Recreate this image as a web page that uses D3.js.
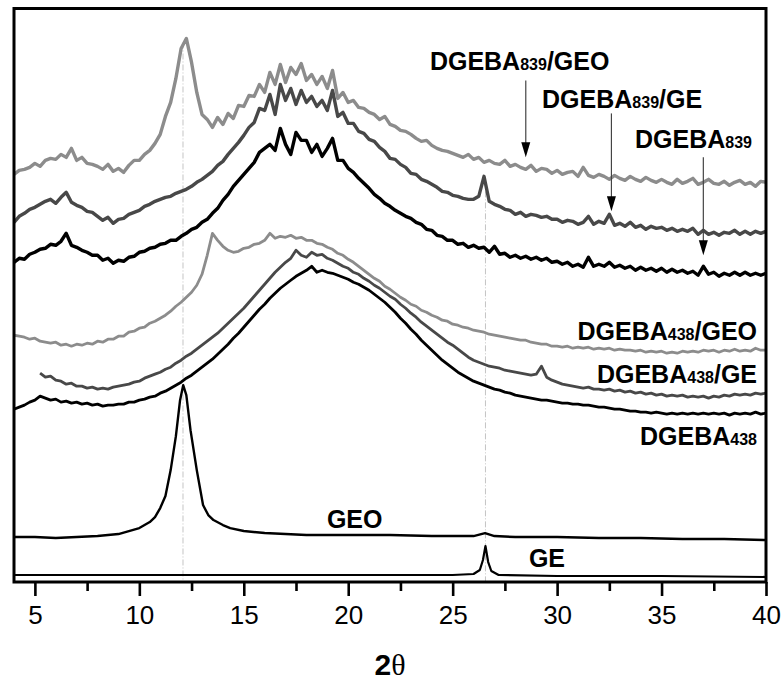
<!DOCTYPE html>
<html>
<head>
<meta charset="utf-8">
<script src="https://cdn.jsdelivr.net/npm/d3@7"></script>
<style>
  html, body { margin: 0; padding: 0; background: #fff; }
  svg { display: block; }
  .tick text { font-family: "Liberation Sans", Arial, sans-serif; }
</style>
</head>
<body>
<svg id="chart" width="784" height="684"></svg>
<script>
// XRD patterns, intensity in arbitrary units (curves are vertically offset).
// Scans on a 0.25° 2θ grid; values grouped four per degree.
const scanStep = 0.25;

const dgeba839Geo = [
  426, 430, 431, 433,  437, 434, 440, 442,  441, 446, 443, 452,  440, 443, 437, 436,
  434, 431, 436, 429,  432, 428, 435, 440,  440, 446, 450, 457,  466, 484, 498, 522,
  552, 562, 538, 508,  486, 481, 473, 483,  476, 487, 482, 495,  494, 505, 504, 516,
  508, 528, 516, 536,  518, 533, 526, 537,  520, 526, 516, 524,  512, 530, 502, 508,
  498, 500, 493, 492,  488, 486, 481, 484,  476, 474, 470, 469,  466, 462, 459, 460,
  455, 452, 450, 449,  447, 445, 443, 446,  441, 443, 438, 440,  437, 436, 440, 434,
  436, 433, 431, 435,  429, 432, 431, 427,  430, 426, 428, 429,  424, 433, 425, 423,
  426, 424, 421, 425,  422, 420, 424, 421,  419, 423, 420, 418,  421, 418, 416, 421,
  417, 419, 422, 416,  418, 421, 417, 416,  419, 415, 418, 420,  416, 418, 414, 419,
  418
];

const dgeba839Ge = [
  378, 384, 387, 391,  393, 396, 399, 401,  397, 403, 408, 398,  395, 393, 389, 388,
  384, 380, 383, 377,  381, 382, 386, 388,  390, 394, 396, 399,  401, 403, 404, 407,
  409, 411, 414, 418,  421, 425, 429, 435,  439, 446, 452, 458,  465, 473, 478, 492,
  490, 506, 486, 516,  500, 512, 496, 510,  498, 504, 494, 500,  490, 510, 484, 488,
  477, 477, 469, 467,  461, 459, 453, 449,  442, 441, 436, 433,  427, 426, 421, 419,
  416, 413, 409, 408,  405, 404, 402, 401,  401, 404, 424, 399,  396, 394, 391, 390,
  386, 388, 384, 386,  385, 383, 384, 381,  381, 378, 380, 379,  376, 378, 384, 376,
  379, 377, 386, 375,  377, 374, 378, 373,  375, 371, 374, 372,  373, 370, 372, 369,
  371, 369, 372, 366,  370, 366, 368, 365,  368, 367, 370, 366,  369, 366, 369, 367,
  369
];

const dgeba839 = [
  338, 342, 341, 346,  348, 351, 352, 356,  355, 359, 367, 355,  353, 350, 348, 345,
  345, 340, 342, 337,  340, 339, 343, 344,  348, 349, 352, 353,  356, 357, 360, 360,
  364, 367, 371, 373,  378, 381, 387, 392,  400, 406, 414, 420,  426, 432, 438, 448,
  452, 456, 450, 472,  456, 446, 468, 460,  460, 448, 456, 444,  452, 462, 440, 440,
  432, 428, 422, 417,  412, 406, 402, 397,  394, 390, 387, 384,  382, 378, 376, 371,
  370, 365, 364, 360,  360, 356, 357, 353,  355, 352, 353, 348,  354, 346, 347, 343,
  345, 342, 344, 341,  343, 340, 342, 338,  339, 336, 338, 334,  336, 333, 343, 334,
  336, 334, 338, 333,  335, 332, 334, 330,  333, 330, 332, 329,  332, 328, 331, 328,
  330, 327, 329, 325,  334, 326, 328, 324,  327, 325, 328, 325,  328, 325, 327, 325,
  327
];

const dgeba438Geo = [
  265, 264, 263, 261,  262, 259, 258, 257,  258, 255, 256, 254,  256, 255, 257, 256,
  259, 258, 261, 261,  264, 264, 268, 269,  272, 273, 277, 279,  282, 285, 289, 294,
  298, 303, 308, 315,  326, 345, 367, 360,  354, 350, 348, 349,  352, 353, 356, 357,
  360, 367, 362, 364,  363, 365, 362, 363,  360, 360, 357, 356,  353, 351, 347, 345,
  341, 338, 334, 330,  326, 322, 319, 314,  311, 307, 303, 300,  296, 294, 290, 288,
  285, 283, 280, 279,  276, 275, 273, 272,  270, 269, 268, 266,  265, 264, 263, 262,
  261, 260, 260, 258,  257, 256, 256, 254,  254, 253, 254, 252,  253, 252, 253, 251,
  252, 251, 252, 250,  251, 250, 250, 249,  250, 248, 249, 248,  249, 247, 248, 247,
  249, 248, 249, 248,  250, 249, 250, 248,  250, 249, 251, 249,  250, 249, 252, 250,
  250
];

// DGEBA438/GE scan begins at 5.25°
const dgeba438GeStart = 5.25;
const dgeba438Ge = [
                  227, 223, 224,
  220, 219, 216, 217,  214, 214, 212, 213,  211, 212, 211, 213,  214, 215, 216, 218,
  219, 222, 224, 226,  228, 231, 233, 237,  240, 244, 247, 251,  255, 259, 263, 267,
  272, 277, 282, 287,  292, 298, 304, 310,  316, 322, 328, 333,  338, 342, 350, 345,
  343, 348, 345, 346,  342, 340, 337, 334,  332, 328, 326, 322,  319, 315, 312, 308,
  304, 301, 296, 292,  287, 283, 278, 274,  270, 266, 262, 258,  255, 251, 247, 243,
  240, 238, 236, 234,  233, 232, 230, 229,  228, 227, 226, 225,  226, 234, 223, 220,
  218, 216, 215, 214,  213, 212, 213, 211,  211, 210, 211, 209,  210, 208, 209, 207,
  208, 206, 207, 205,  206, 204, 205, 204,  205, 203, 204, 203,  204, 202, 204, 203,
  205, 204, 206, 205,  206, 205, 207, 206,
  207
];

const dgeba438 = [
  191, 193, 195, 198,  200, 204, 202, 200,  201, 198, 199, 197,  198, 196, 197, 195,
  196, 194, 195, 195,  196, 196, 198, 198,  200, 201, 203, 204,  207, 209, 212, 215,
  218, 222, 225, 229,  233, 237, 241, 246,  251, 256, 262, 267,  273, 279, 285, 291,
  296, 302, 307, 312,  316, 320, 324, 327,  330, 334, 328, 330,  328, 327, 325, 323,
  321, 318, 316, 313,  310, 306, 302, 298,  293, 288, 282, 277,  271, 266, 260, 255,
  250, 245, 240, 236,  232, 228, 225, 222,  219, 217, 215, 213,  211, 210, 208, 207,
  205, 204, 203, 202,  201, 200, 200, 199,  198, 197, 197, 196,  196, 195, 195, 194,
  193, 193, 192, 191,  191, 190, 189, 189,  188, 188, 187, 188,  187, 186, 187, 186,
  187, 186, 187, 186,  187, 186, 187, 186,  187, 185, 187, 186,  187, 186, 188, 186,
  187
];

// Pure fillers, sampled at irregular 2θ positions
const geoTwoTheta = [4, 5, 6, 7, 8, 9, 10, 10.5, 10.75, 11, 11.25, 11.5, 11.75, 11.95, 12.1,
  12.25, 12.45, 12.75, 13.05, 13.3, 13.55, 14, 14.35, 15, 16, 17, 18, 20, 22, 24, 26,
  26.55, 27, 28, 30, 32, 34, 36, 38, 40];
const geoIntensity = [63, 63, 62, 63, 64, 66, 72, 78, 83, 92, 104, 130, 164, 200, 215,
  205, 170, 130, 95, 85, 80, 75, 72, 69, 67, 66, 65, 65, 65, 64, 64,
  67, 64, 63, 63, 62, 62, 61, 61, 60];

const geTwoTheta = [4, 10, 15, 20, 25, 26, 26.3, 26.45, 26.57, 26.7, 26.85, 27.2, 30, 35, 40];
const geIntensity = [25, 25, 25, 25, 25, 26, 30, 40, 54, 38, 29, 25, 24, 24, 23];

// Reflection positions marked with guide lines
const guideAngles = [12.09, 26.57];

const xTicksMajor = [5, 10, 15, 20, 25, 30, 35, 40];
const xTicksMinor = [7.5, 12.5, 17.5, 22.5, 27.5, 32.5, 37.5];

const seriesNames = ["DGEBA839/GEO", "DGEBA839/GE", "DGEBA839", "DGEBA438/GEO", "DGEBA438/GE", "DGEBA438", "GEO", "GE"];

// ---------------------------------------------------------------
const svg = d3.select("#chart");
const W = 784, H = 684;
const plot = { left: 14, right: 766, top: 8.5, bottom: 582 };

const x = d3.scaleLinear().domain([4, 40]).range([plot.left, plot.right]);
const y = d3.scaleLinear().domain([18, 592]).range([plot.bottom, plot.top]);

const onGrid = (vals, start) => vals.map((v, i) => ({ t: start + i * scanStep, v }));
const paired = (ts, vs) => ts.map((t, i) => ({ t, v: vs[i] }));

const gray = "#8c8c8c", dark = "#484848", black = "#000";

const series = [
  { name: seriesNames[5], pts: onGrid(dgeba438, 4), color: black, w: 2.8 },
  { name: seriesNames[4], pts: onGrid(dgeba438Ge, dgeba438GeStart), color: dark, w: 2.8 },
  { name: seriesNames[3], pts: onGrid(dgeba438Geo, 4), color: gray, w: 2.8 },
  { name: seriesNames[2], pts: onGrid(dgeba839, 4), color: black, w: 3.4 },
  { name: seriesNames[1], pts: onGrid(dgeba839Ge, 4), color: dark, w: 3.4 },
  { name: seriesNames[0], pts: onGrid(dgeba839Geo, 4), color: gray, w: 3.4 },
  { name: seriesNames[6], pts: paired(geoTwoTheta, geoIntensity), color: black, w: 2.4 },
  { name: seriesNames[7], pts: paired(geTwoTheta, geIntensity), color: black, w: 2.2 }
];

svg.append("rect").attr("width", W).attr("height", H).attr("fill", "#fff");

svg.append("defs").append("clipPath").attr("id", "plotClip")
  .append("rect")
  .attr("x", plot.left).attr("y", plot.top)
  .attr("width", plot.right - plot.left).attr("height", plot.bottom - plot.top);

// Guide lines through the filler reflections, from the top pattern's peak down
const guideTop = [d3.max(dgeba839Geo), d3.max(dgeba839Ge.slice(80, 120))];
svg.append("g").selectAll("line").data(guideAngles).join("line")
  .attr("x1", d => x(d)).attr("x2", d => x(d))
  .attr("y1", (d, i) => y(guideTop[i]) + 4)
  .attr("y2", plot.bottom)
  .attr("stroke", "#c4c4c4").attr("stroke-width", 1)
  .attr("stroke-dasharray", "6,2,1,2");

const line = d3.line().x(d => x(d.t)).y(d => y(d.v)).curve(d3.curveLinear);

svg.append("g").attr("clip-path", "url(#plotClip)")
  .selectAll("path").data(series).join("path")
  .attr("d", d => line(d.pts))
  .attr("fill", "none")
  .attr("stroke", d => d.color)
  .attr("stroke-width", d => d.w)
  .attr("stroke-linejoin", "round");

// Frame
svg.append("rect")
  .attr("x", plot.left).attr("y", plot.top)
  .attr("width", plot.right - plot.left).attr("height", plot.bottom - plot.top)
  .attr("fill", "none").attr("stroke", "#000").attr("stroke-width", 3);

// Bottom axis: major ticks with labels, unlabeled minor ticks
const axisMajor = d3.axisBottom(x).tickValues(xTicksMajor).tickSize(14).tickPadding(10)
  .tickFormat(d3.format("d"));
const gMajor = svg.append("g").attr("transform", `translate(0,${plot.bottom})`).call(axisMajor);
gMajor.select(".domain").remove();
gMajor.selectAll(".tick line").attr("stroke", "#000").attr("stroke-width", 2.6);
gMajor.selectAll(".tick text").attr("fill", "#000").attr("font-size", 26);

const axisMinor = d3.axisBottom(x).tickValues(xTicksMinor).tickSize(9).tickFormat("");
const gMinor = svg.append("g").attr("transform", `translate(0,${plot.bottom})`).call(axisMinor);
gMinor.select(".domain").remove();
gMinor.selectAll(".tick line").attr("stroke", "#000").attr("stroke-width", 2.6);

// Axis title
const title = svg.append("text")
  .attr("x", (plot.left + plot.right) / 2).attr("y", 675)
  .attr("text-anchor", "middle").attr("fill", "#000");
title.append("tspan").text("2")
  .attr("font-family", "'Liberation Sans', Arial, sans-serif")
  .attr("font-weight", "bold").attr("font-size", 30);
title.append("tspan").text("θ")
  .attr("font-family", "'Liberation Serif', 'Times New Roman', serif")
  .attr("font-size", 30);

// Curve labels
const labels = [
  { main: "DGEBA", sub: "839", tail: "/GEO", t: 23.91, v: 530, anchor: "start" },
  { main: "DGEBA", sub: "839", tail: "/GE", t: 29.28, v: 492, anchor: "start" },
  { main: "DGEBA", sub: "839", tail: "", t: 33.73, v: 452, anchor: "start" },
  { main: "DGEBA", sub: "438", tail: "/GEO", t: 39.57, v: 260, anchor: "end" },
  { main: "DGEBA", sub: "438", tail: "/GE", t: 39.57, v: 217, anchor: "end" },
  { main: "DGEBA", sub: "438", tail: "", t: 39.57, v: 155, anchor: "end" },
  { main: "GEO", sub: "", tail: "", t: 18.98, v: 72, anchor: "start" },
  { main: "GE", sub: "", tail: "", t: 28.65, v: 33, anchor: "start" }
];

const lab = svg.append("g")
  .attr("font-family", "'Liberation Sans', Arial, sans-serif")
  .attr("font-weight", "bold").attr("fill", "#000");
labels.forEach(l => {
  const t = lab.append("text")
    .attr("x", x(l.t)).attr("y", y(l.v))
    .attr("text-anchor", l.anchor);
  t.append("tspan").attr("font-size", 25).text(l.main);
  if (l.sub) t.append("tspan").attr("font-size", 16).text(l.sub);
  if (l.tail) t.append("tspan").attr("font-size", 25).text(l.tail);
});

// Arrows from the DGEBA839 labels down to their patterns
const arrows = [
  { t: 28.5, from: 520, to: 443 },
  { t: 32.6, from: 487, to: 389 },
  { t: 37.0, from: 443, to: 345 }
];
const head = 15, halfW = 4.5;
const ag = svg.append("g");
arrows.forEach(a => {
  const ax = x(a.t), y0 = y(a.from), y1 = y(a.to);
  ag.append("line")
    .attr("x1", ax).attr("x2", ax).attr("y1", y0).attr("y2", y1 - head + 1)
    .attr("stroke", "#444").attr("stroke-width", 1.2);
  ag.append("path")
    .attr("d", `M${ax - halfW},${y1 - head} L${ax + halfW},${y1 - head} L${ax},${y1} Z`)
    .attr("fill", "#000");
});
</script>
</body>
</html>
